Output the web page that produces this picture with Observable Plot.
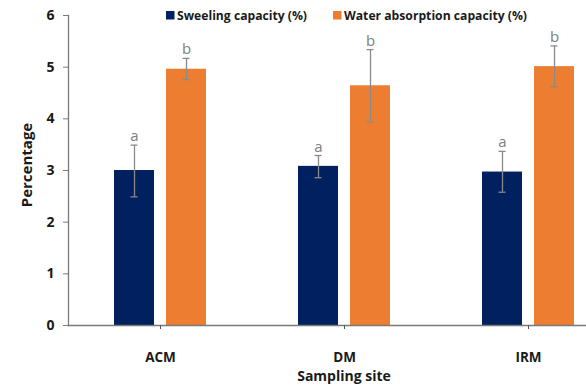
<!DOCTYPE html>
<html><head><meta charset="utf-8">
<script src="https://cdn.jsdelivr.net/npm/d3@7"></script>
<script src="https://cdn.jsdelivr.net/npm/@observablehq/plot@0.6"></script>
<style>
html,body{margin:0;padding:0;background:#fff;overflow:hidden;}
#wrap{position:relative;width:586px;height:385px;overflow:hidden;}
#wrap svg{max-width:none !important;width:620px !important;height:385px !important;display:block;}
</style></head>
<body><div id="wrap"></div>
<script>
const sites = ["ACM","DM","IRM"];
const seriesNames = ["Sweeling capacity (%)","Water absorption capacity (%)"];
const colors = ["#002060","#ED7D31"];
const swelling = [3.0, 3.08, 2.97];
const swellingLow = [2.49, 2.86, 2.58];
const swellingHigh = [3.49, 3.29, 3.37];
const water = [4.96, 4.64, 5.01];
const waterLow = [4.76, 3.94, 4.62];
const waterHigh = [5.17, 5.34, 5.41];
const swellingLetters = ["a","a","a"];
const waterLetters = ["b","b","b"];
const yTicks = [0,1,2,3,4,5,6];

const rows = [];
sites.forEach((s,i)=>{
  rows.push({site:s, series:seriesNames[0], v:swelling[i], lo:swellingLow[i], hi:swellingHigh[i], letter:swellingLetters[i]});
  rows.push({site:s, series:seriesNames[1], v:water[i], lo:waterLow[i], hi:waterHigh[i], letter:waterLetters[i]});
});

const font = '"Open Sans", sans-serif';
const axisGrey = "#7a7a7a";
const errGrey = "#8a8a8a";
const chart = Plot.plot({
  width: 620, height: 385,
  marginLeft: 68, marginRight: 0, marginTop: 15, marginBottom: 60,
  style: {fontFamily: font, fontSize: "13px", color: "#1a1a1a", background: "#fff"},
  fx: {domain: sites, padding: 0, label: null},
  x: {domain: seriesNames, paddingInner: 0.226, paddingOuter: 0.849, axis: null},
  y: {domain: [0, 6], ticks: yTicks, label: null},
  color: {domain: seriesNames, range: colors},
  marks: [
    Plot.barY(rows, {fx: "site", x: "series", y: "v", fill: "series"}),
    Plot.ruleX(rows, {fx: "site", x: "series", y1: "lo", y2: "hi", stroke: errGrey, strokeWidth: 1.3}),
    Plot.tickY(rows, {fx: "site", x: "series", y: "hi", stroke: errGrey, strokeWidth: 1.3, insetLeft: 16.5, insetRight: 16.5}),
    Plot.tickY(rows, {fx: "site", x: "series", y: "lo", stroke: errGrey, strokeWidth: 1.3, insetLeft: 16.5, insetRight: 16.5}),
    Plot.text(rows, {fx: "site", x: "series", y: "hi", text: "letter", lineAnchor: "bottom", dy: -4, fill: "#808080", fontSize: 15, fontFamily: font}),
    Plot.axisY({ticks: yTicks, tickFormat: "d", tickSize: 5, tickPadding: 9, fontWeight: "bold", fontSize: 14, label: null, stroke: axisGrey}),
    Plot.frame({anchor: "left", facet: "super", stroke: axisGrey, strokeWidth: 1.3}),
    Plot.frame({anchor: "bottom", facet: "super", stroke: axisGrey, strokeWidth: 1.3}),
    Plot.axisFx({anchor: "bottom", tickSize: 4, tickPadding: 23, fontWeight: "bold", fontSize: 13.5, label: null, stroke: "#555"}),
  ]
});
const wrap = document.getElementById("wrap");
wrap.appendChild(chart);
const svg = d3.select(chart);
svg.append("text").attr("x", 344).attr("y", 381).attr("text-anchor","middle")
  .attr("font-weight","bold").attr("font-size","14px").attr("font-family",font).attr("fill","#1a1a1a").text("Sampling site");
svg.append("text").attr("transform","translate(32,165) rotate(-90)").attr("text-anchor","middle")
  .attr("font-weight","bold").attr("font-size","15px").attr("font-family",font).attr("fill","#1a1a1a").text("Percentage");
// legend (above the plot area, inside the svg)
const legendSquares = [166, 333];
const legendText = [177, 344];
const legendWidths = [130, 183];
seriesNames.forEach((n,i)=>{
  svg.append("rect").attr("x", legendSquares[i]).attr("y", 11).attr("width", 8.5).attr("height", 8.5).attr("fill", colors[i]);
  svg.append("text").attr("x", legendText[i]).attr("y", 20).attr("text-anchor","start").attr("font-weight","bold").attr("font-size","13px")
    .attr("font-family",font).attr("fill","#1a1a1a").attr("textLength", legendWidths[i]).attr("lengthAdjust","spacingAndGlyphs").text(n);
});
</script></body></html>
